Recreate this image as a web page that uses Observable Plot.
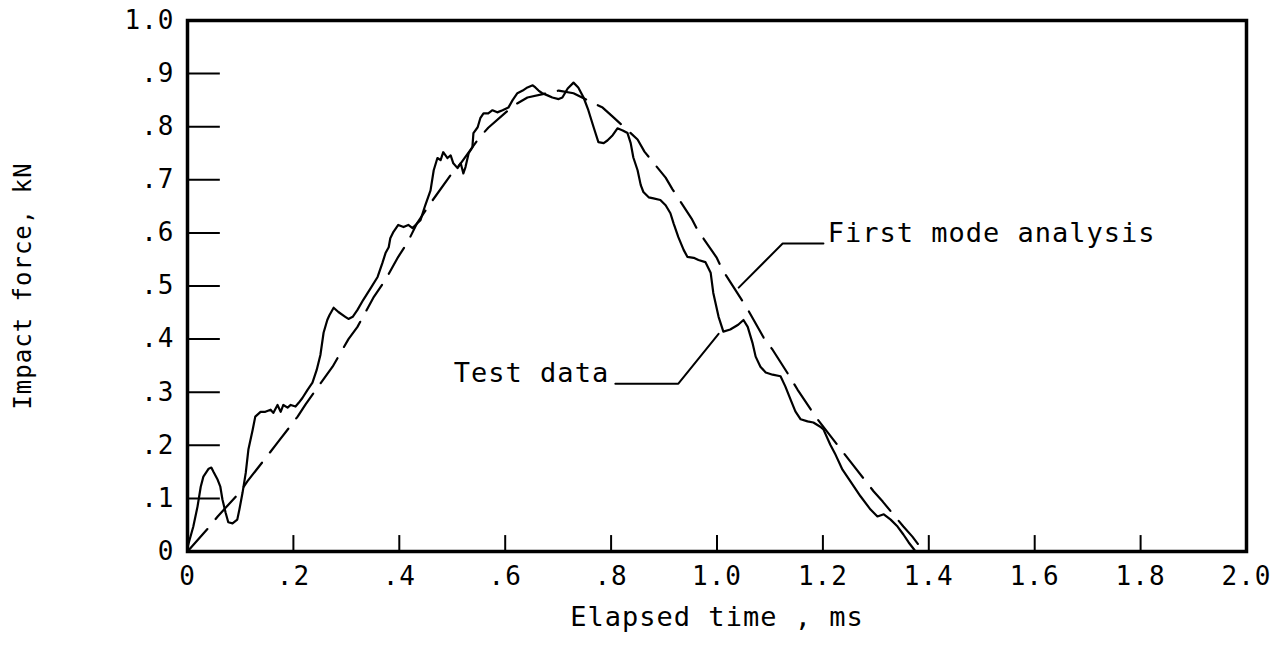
<!DOCTYPE html>
<html>
<head>
<meta charset="utf-8">
<script src="https://cdn.jsdelivr.net/npm/d3@7"></script>
<script src="https://cdn.jsdelivr.net/npm/@observablehq/plot@0.6"></script>
<style>
  html, body { margin: 0; padding: 0; background: #fff; }
  #chart svg { display: block; }
  #chart svg text { letter-spacing: 1px; }
</style>
</head>
<body>
<div id="chart"></div>
<script>
// Test data (elapsed time ms, impact force kN)
const testT = [0.000,0.011,0.019,0.025,0.030,0.040,0.045,0.049,0.057,0.062,0.066,0.072,0.077,0.085,0.094,0.098,0.104,0.110,0.115,0.123,0.128,0.138,0.147,0.157,0.162,0.170,0.176,0.181,0.189,0.195,0.204,0.210,0.217,0.227,0.236,0.244,0.251,0.257,0.264,0.268,0.276,0.285,0.298,0.304,0.312,0.321,0.332,0.346,0.359,0.368,0.374,0.380,0.383,0.389,0.398,0.408,0.417,0.425,0.434,0.440,0.449,0.459,0.465,0.472,0.478,0.483,0.491,0.497,0.502,0.510,0.516,0.521,0.525,0.531,0.538,0.540,0.548,0.553,0.559,0.568,0.576,0.585,0.595,0.606,0.614,0.623,0.633,0.642,0.652,0.657,0.663,0.670,0.680,0.689,0.701,0.708,0.718,0.729,0.738,0.748,0.757,0.767,0.776,0.786,0.793,0.803,0.812,0.822,0.831,0.837,0.842,0.850,0.856,0.861,0.871,0.880,0.893,0.903,0.912,0.918,0.927,0.937,0.944,0.956,0.965,0.978,0.988,0.993,1.003,1.012,1.025,1.040,1.050,1.058,1.067,1.073,1.082,1.092,1.105,1.120,1.129,1.139,1.148,1.158,1.171,1.182,1.195,1.201,1.214,1.224,1.237,1.252,1.271,1.290,1.303,1.315,1.328,1.341,1.352,1.362,1.369,1.375];
const testF = [0.008,0.047,0.085,0.122,0.141,0.156,0.158,0.150,0.135,0.122,0.098,0.073,0.055,0.053,0.060,0.079,0.111,0.148,0.192,0.229,0.254,0.263,0.263,0.267,0.261,0.276,0.263,0.276,0.271,0.276,0.273,0.280,0.289,0.305,0.318,0.342,0.370,0.412,0.436,0.445,0.459,0.451,0.442,0.438,0.442,0.455,0.474,0.496,0.517,0.543,0.562,0.573,0.590,0.602,0.615,0.611,0.615,0.609,0.618,0.624,0.652,0.680,0.718,0.741,0.737,0.752,0.741,0.746,0.731,0.722,0.731,0.712,0.724,0.750,0.761,0.788,0.799,0.816,0.825,0.825,0.831,0.827,0.831,0.836,0.850,0.863,0.868,0.874,0.878,0.874,0.868,0.863,0.859,0.855,0.852,0.855,0.872,0.883,0.874,0.855,0.831,0.799,0.771,0.769,0.774,0.784,0.797,0.793,0.788,0.769,0.742,0.718,0.690,0.677,0.667,0.665,0.662,0.652,0.637,0.618,0.592,0.568,0.555,0.553,0.549,0.545,0.525,0.487,0.442,0.414,0.418,0.427,0.436,0.423,0.393,0.367,0.348,0.337,0.333,0.330,0.311,0.286,0.264,0.249,0.245,0.243,0.235,0.230,0.201,0.182,0.154,0.132,0.104,0.079,0.066,0.070,0.060,0.047,0.032,0.017,0.008,0.000];

// First mode analysis (dashed)
const modeT = [0.000,0.040,0.057,0.100,0.113,0.153,0.170,0.208,0.223,0.255,0.274,0.304,0.321,0.351,0.374,0.398,0.415,0.434,0.459,0.497,0.516,0.550,0.568,0.616,0.642,0.701,0.729,0.784,0.803,0.850,0.863,0.903,0.916,0.952,0.963,0.999,1.010,1.044,1.058,1.088,1.105,1.137,1.152,1.186,1.256,1.296,1.313,1.352,1.369,1.390];
const modeF = [0.000,0.045,0.066,0.113,0.132,0.183,0.205,0.254,0.277,0.322,0.348,0.400,0.423,0.478,0.512,0.555,0.581,0.619,0.656,0.709,0.731,0.778,0.798,0.840,0.855,0.868,0.863,0.836,0.819,0.776,0.753,0.704,0.682,0.627,0.606,0.554,0.531,0.478,0.456,0.403,0.380,0.330,0.305,0.254,0.164,0.113,0.094,0.047,0.028,0.000];

// Axis ticks
const xTicks = [0,0.2,0.4,0.6,0.8,1.0,1.2,1.4,1.6,1.8,2.0];
const xTickLabels = ["0",".2",".4",".6",".8","1.0","1.2","1.4","1.6","1.8","2.0"];
const yTicks = [0,0.1,0.2,0.3,0.4,0.5,0.6,0.7,0.8,0.9,1.0];
const yTickLabels = ["0",".1",".2",".3",".4",".5",".6",".7",".8",".9","1.0"];

// Annotations
const noteText = ["First mode analysis", "Test data"];
const noteT = [1.209, 0.503];
const noteF = [0.599, 0.335];
const leaderModeT = [1.041, 1.124, 1.201];
const leaderModeF = [0.497, 0.580, 0.580];
const leaderTestT = [0.808, 0.927, 1.003];
const leaderTestF = [0.316, 0.316, 0.410];

const xTitle = "Elapsed time , ms";
const yTitle = "Impact force, kN";

const testData = testT.map((t, i) => ({t, f: testF[i]}));
const modeData = modeT.map((t, i) => ({t, f: modeF[i]}));
const notes = noteText.map((s, i) => ({s, t: noteT[i], f: noteF[i]}));
const leaderMode = leaderModeT.map((t, i) => ({t, f: leaderModeF[i]}));
const leaderTest = leaderTestT.map((t, i) => ({t, f: leaderTestF[i]}));
const xt = xTicks.map((v, i) => ({v, s: xTickLabels[i]}));
const yt = yTicks.map((v, i) => ({v, s: yTickLabels[i]}));

const FONT = "'DejaVu Sans Mono', 'Liberation Mono', monospace";
const SW = 2.2;

const chart = Plot.plot({
  width: 1283,
  height: 646,
  marginLeft: 187,
  marginRight: 37,
  marginTop: 20,
  marginBottom: 95,
  style: {fontFamily: FONT, background: "#fff", color: "#000"},
  x: {domain: [0, 2], axis: null},
  y: {domain: [0, 1], axis: null},
  marks: [
    // inward ticks
    Plot.ruleX(xt, {x: "v", y1: 0, y2: 0.03, stroke: "#000", strokeWidth: 2}),
    Plot.ruleY(yt, {y: "v", x1: 0, x2: 0.062, stroke: "#000", strokeWidth: 2}),
    // tick labels
    Plot.text(xt, {x: "v", y: 0, text: "s", dy: 25, fontSize: 26, fill: "#000"}),
    Plot.text(yt, {x: 0, y: "v", text: "s", dx: -13, textAnchor: "end", fontSize: 26, fill: "#000"}),
    // curves
    Plot.line(modeData, {x: "t", y: "f", stroke: "#000", strokeWidth: SW, strokeDasharray: "30,13"}),
    Plot.line(testData, {x: "t", y: "f", stroke: "#000", strokeWidth: SW}),
    // leaders
    Plot.line(leaderMode, {x: "t", y: "f", stroke: "#000", strokeWidth: 2}),
    Plot.line(leaderTest, {x: "t", y: "f", stroke: "#000", strokeWidth: 2}),
    Plot.text(notes, {x: "t", y: "f", text: "s", textAnchor: "start", fontSize: 27, fill: "#000"}),
    // axis titles
    Plot.text([xTitle], {frameAnchor: "bottom", dy: 74, fontSize: 27, fill: "#000"}),
    Plot.text([yTitle], {frameAnchor: "left", textAnchor: "middle", dx: -164, rotate: -90, fontSize: 24, fill: "#000"}),
    Plot.frame({stroke: "#000", strokeWidth: 3.5})
  ]
});
document.getElementById("chart").appendChild(chart);
</script>
</body>
</html>
